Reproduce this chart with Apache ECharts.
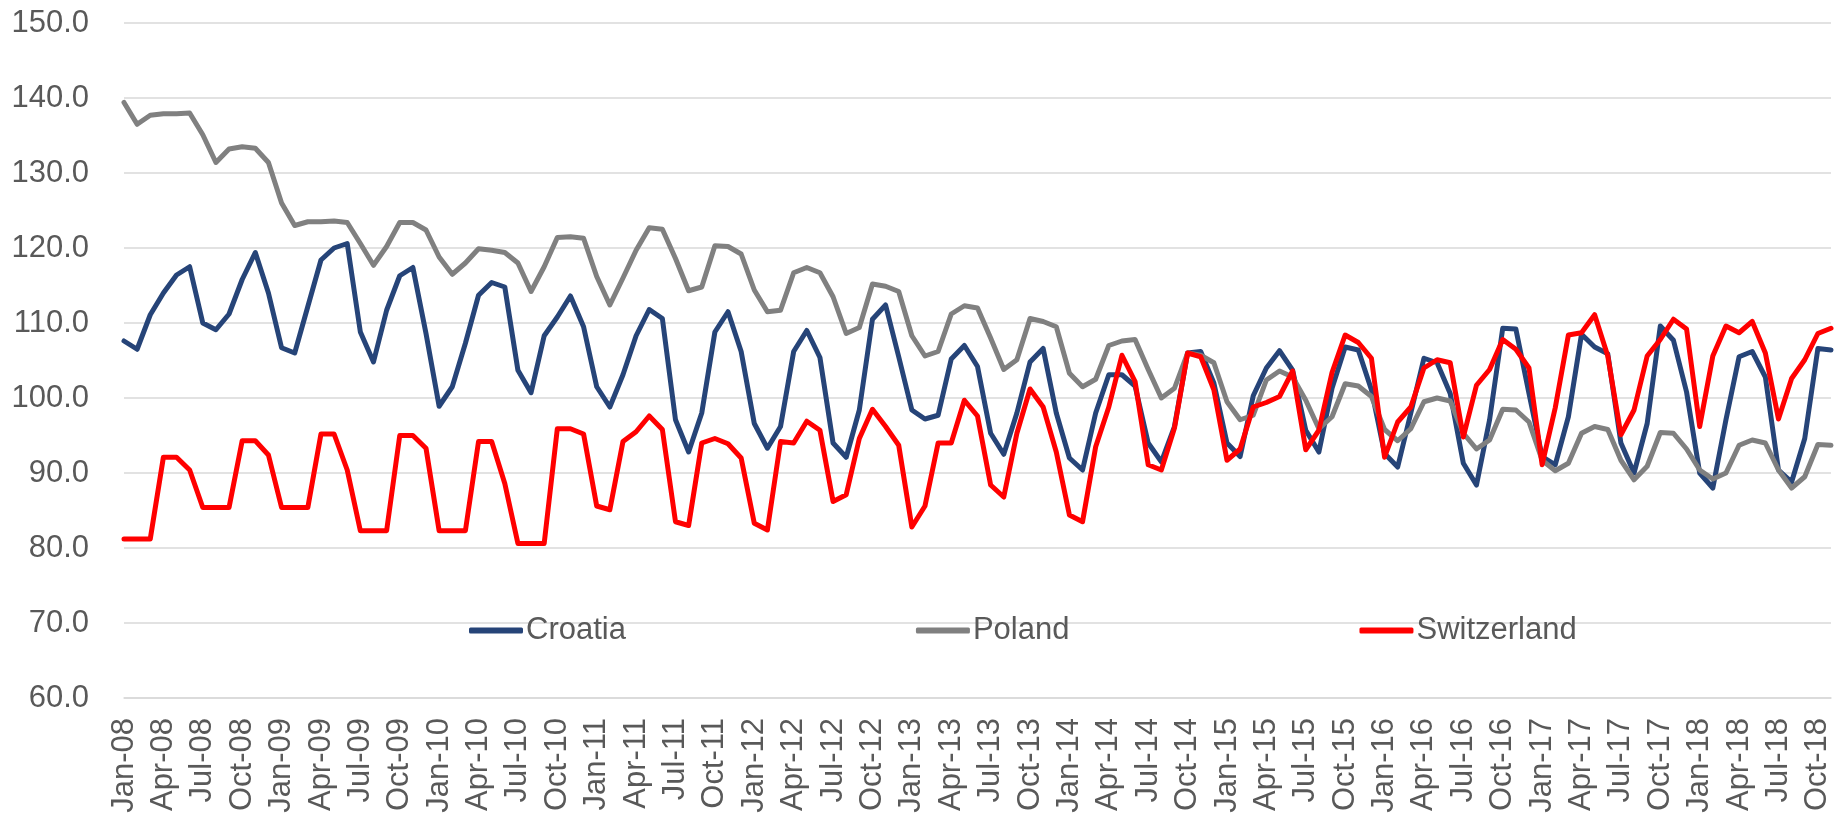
<!DOCTYPE html>
<html>
<head>
<meta charset="utf-8">
<script src="https://cdn.jsdelivr.net/npm/echarts@6/dist/echarts.min.js"></script>
<style>
  html, body { margin: 0; padding: 0; background: #fff; }
  #chart { width: 1841px; height: 818px; }
</style>
</head>
<body>
<div id="chart"></div>
<script>
// monthly categories, Jan-08 .. Nov-18
const monthNames = ['Jan', 'Feb', 'Mar', 'Apr', 'May', 'Jun', 'Jul', 'Aug', 'Sep', 'Oct', 'Nov', 'Dec'];
const years = ['08', '09', '10', '11', '12', '13', '14', '15', '16', '17', '18'];
const lastMonthCount = 11; // data stops at Nov-18

const croatia = [
    107.6, 106.5, 111.1, 114.0, 116.4, 117.5, 110.0, 109.1, 111.2, 115.8, 119.4, 114.0,
    106.7, 106.0, 112.2, 118.4, 120.0, 120.6, 108.8, 104.8, 111.7, 116.3, 117.4, 108.6,
    98.9, 101.5, 107.3, 113.7, 115.4, 114.8, 103.7, 100.7, 108.3, 110.8, 113.6, 109.5,
    101.5, 98.8, 103.1, 108.3, 111.8, 110.6, 97.1, 92.8, 98.0, 108.8, 111.5, 106.2,
    96.6, 93.3, 96.2, 106.2, 109.0, 105.4, 94.0, 92.1, 98.4, 110.5, 112.4, 105.5,
    98.4, 97.2, 97.7, 105.2, 107.0, 104.2, 95.3, 92.5, 98.0, 104.8, 106.6, 98.0,
    92.0, 90.4, 98.0, 103.1, 103.1, 101.6, 94.0, 91.5, 96.2, 106.0, 106.2, 102.0,
    94.0, 92.2, 100.3, 104.0, 106.3, 103.7, 95.7, 92.8, 101.3, 106.8, 106.4, 101.1,
    92.6, 90.8, 98.0, 105.3, 104.7, 100.6, 91.3, 88.4, 97.1, 109.3, 109.2, 100.6,
    92.2, 91.1, 97.5, 108.5, 106.8, 105.9, 94.0, 90.0, 96.6, 109.6, 107.7, 100.8,
    90.0, 88.0, 97.1, 105.5, 106.2, 102.8, 90.4, 88.8, 94.6, 106.6, 106.4
];

const poland = [
    139.4, 136.5, 137.7, 137.9, 137.9, 138.0, 135.1, 131.4, 133.2, 133.5, 133.3, 131.4,
    126.0, 123.0, 123.5, 123.5, 123.6, 123.4, 120.6, 117.7, 120.2, 123.4, 123.4, 122.4,
    118.8, 116.5, 118.0, 119.9, 119.7, 119.4, 118.0, 114.2, 117.5, 121.4, 121.5, 121.3,
    116.2, 112.4, 116.0, 119.7, 122.7, 122.5, 118.6, 114.3, 114.8, 120.3, 120.2, 119.2,
    114.4, 111.5, 111.7, 116.7, 117.4, 116.7, 113.5, 108.6, 109.4, 115.2, 114.9, 114.2,
    108.3, 105.6, 106.2, 111.2, 112.3, 112.0, 108.0, 103.8, 105.1, 110.6, 110.2, 109.5,
    103.3, 101.5, 102.5, 107.0, 107.6, 107.8, 103.8, 100.0, 101.3, 106.0, 105.7, 104.7,
    99.5, 97.1, 97.7, 102.4, 103.6, 102.8, 99.7, 95.9, 97.5, 101.9, 101.6, 100.2,
    95.8, 94.3, 95.9, 99.5, 100.0, 99.6, 95.3, 93.2, 94.4, 98.5, 98.4, 96.8,
    91.7, 90.3, 91.3, 95.3, 96.2, 95.8, 91.7, 89.1, 90.9, 95.4, 95.3, 93.2,
    90.4, 89.2, 90.0, 93.7, 94.4, 94.0, 90.4, 88.0, 89.5, 93.8, 93.7
];

const switzerland = [
    81.2, 81.2, 81.2, 92.1, 92.1, 90.4, 85.4, 85.4, 85.4, 94.3, 94.3, 92.4,
    85.4, 85.4, 85.4, 95.2, 95.2, 90.4, 82.3, 82.3, 82.3, 95.0, 95.0, 93.3,
    82.3, 82.3, 82.3, 94.2, 94.2, 88.6, 80.6, 80.6, 80.6, 95.9, 95.9, 95.2,
    85.6, 85.1, 94.2, 95.5, 97.6, 95.8, 83.5, 83.0, 94.0, 94.6, 93.9, 92.0,
    83.3, 82.4, 94.2, 94.0, 96.9, 95.7, 86.2, 87.1, 94.6, 98.5, 96.2, 93.7,
    82.8, 85.6, 94.0, 94.0, 99.7, 97.6, 88.4, 86.8, 95.3, 101.2, 98.8, 92.8,
    84.4, 83.5, 93.5, 98.8, 105.7, 102.2, 91.1, 90.4, 96.0, 106.0, 105.5, 101.1,
    91.7, 93.2, 98.8, 99.4, 100.2, 103.6, 93.1, 95.7, 103.4, 108.4, 107.4, 105.3,
    92.1, 96.8, 98.8, 104.0, 105.1, 104.7, 94.8, 101.7, 103.8, 107.8, 106.5, 104.0,
    91.1, 98.7, 108.4, 108.7, 111.1, 105.6, 95.1, 98.4, 105.6, 107.8, 110.5, 109.2,
    96.2, 105.6, 109.6, 108.7, 110.2, 106.0, 97.2, 102.6, 105.1, 108.6, 109.3
];

const months = [];
years.forEach((yy, yi) => {
    const n = yi === years.length - 1 ? lastMonthCount : 12;
    for (let m = 0; m < n; m++) months.push(monthNames[m] + '-' + yy);
});

const textColor = '#595959';
const font = 'Liberation Sans, Arial, sans-serif';

const chart = echarts.init(document.getElementById('chart'));

function lineSeries(name, data, color) {
    return {
        name: name,
        type: 'line',
        data: data,
        showSymbol: false,
        symbol: 'none',
        lineStyle: { color: color, width: 5, join: 'round', cap: 'round' },
        itemStyle: { color: color },
        emphasis: { disabled: true }
    };
}

chart.setOption({
    animation: false,
    grid: { left: 124, right: 10, top: 23, bottom: 120 },
    legend: {
        left: 464,
        top: 610,
        itemWidth: 54,
        itemHeight: 6,
        itemGap: 290,
        icon: 'roundRect',
        textStyle: { color: textColor, fontSize: 31, fontFamily: font, padding: [0, 0, 0, -2] },
        data: ['Croatia', 'Poland', 'Switzerland']
    },
    xAxis: {
        type: 'category',
        data: months,
        boundaryGap: false,
        axisLine: { show: true, lineStyle: { color: '#d9d9d9', width: 1.5 } },
        axisTick: { show: false },
        axisLabel: {
            interval: 2,
            rotate: 90,
            margin: 20,
            color: textColor,
            fontSize: 31,
            fontFamily: font
        },
        splitLine: { show: false }
    },
    yAxis: {
        type: 'value',
        min: 60,
        max: 150,
        interval: 10,
        axisLine: { show: false },
        axisTick: { show: false },
        axisLabel: {
            margin: 35,
            color: textColor,
            fontSize: 31,
            fontFamily: font,
            formatter: v => v.toFixed(1)
        },
        splitLine: { lineStyle: { color: '#d9d9d9', width: 1.5 } }
    },
    series: [
        lineSeries('Croatia', croatia, '#264478'),
        lineSeries('Poland', poland, '#808080'),
        lineSeries('Switzerland', switzerland, '#ff0000')
    ]
});
</script>
</body>
</html>
